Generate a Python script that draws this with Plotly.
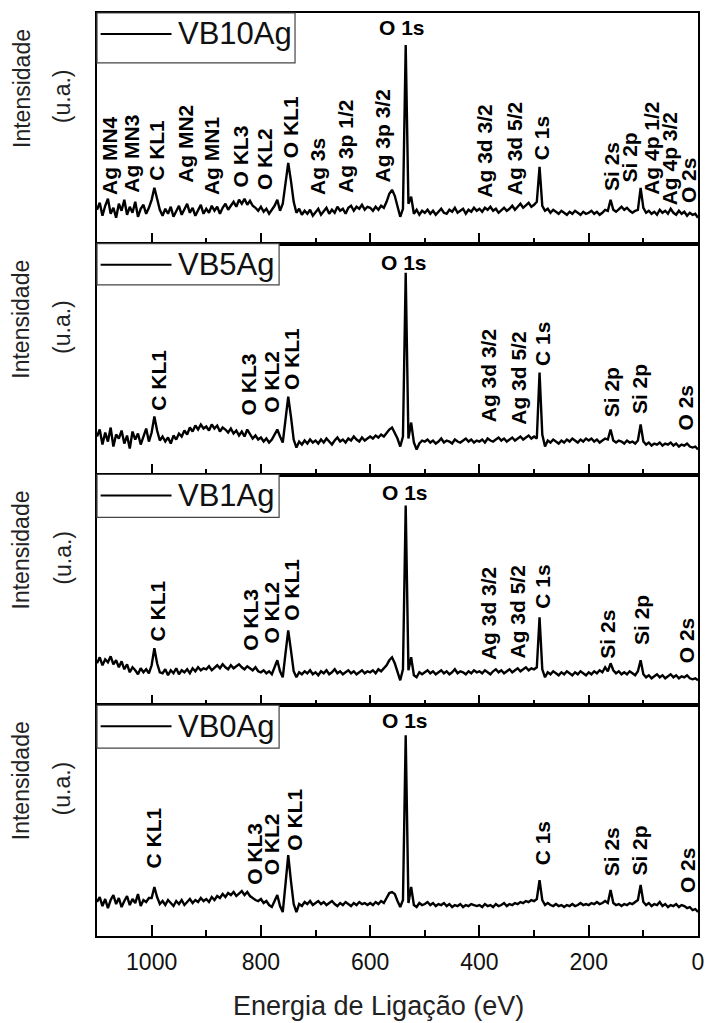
import plotly.graph_objects as go
from plotly.subplots import make_subplots

# Binding energy grid (eV), 1100 -> 0
ENERGY = [
    1100, 1095, 1090, 1085, 1080, 1075, 1070, 1065, 1060, 1055, 1050, 1045, 1040, 1035, 1030, 1025, 1020, 1015, 1010, 1005,
    1000, 995, 990, 985, 980, 975, 970, 965, 960, 955, 950, 945, 940, 935, 930, 925, 920, 915, 910, 905,
    900, 895, 890, 885, 880, 875, 870, 865, 860, 855, 850, 845, 840, 835, 830, 825, 820, 815, 810, 805,
    800, 795, 790, 785, 780, 775, 770, 765, 760, 755, 750, 745, 740, 735, 730, 725, 720, 715, 710, 705,
    700, 695, 690, 685, 680, 675, 670, 665, 660, 655, 650, 645, 640, 635, 630, 625, 620, 615, 610, 605,
    600, 595, 590, 585, 580, 575, 570, 565, 560, 555, 550, 545, 540, 535, 530, 525, 520, 515, 510, 505,
    500, 495, 490, 485, 480, 475, 470, 465, 460, 455, 450, 445, 440, 435, 430, 425, 420, 415, 410, 405,
    400, 395, 390, 385, 380, 375, 370, 365, 360, 355, 350, 345, 340, 335, 330, 325, 320, 315, 310, 305,
    300, 295, 290, 285, 280, 275, 270, 265, 260, 255, 250, 245, 240, 235, 230, 225, 220, 215, 210, 205,
    200, 195, 190, 185, 180, 175, 170, 165, 160, 155, 150, 145, 140, 135, 130, 125, 120, 115, 110, 105,
    100, 95, 90, 85, 80, 75, 70, 65, 60, 55, 50, 45, 40, 35, 30, 25, 20, 15, 10, 5,
    0,
]

VB10AG = [
    34, 41, 28, 38, 45, 30, 36, 26, 40, 33, 44, 29, 37, 31, 42, 27, 35, 39, 30, 36,
    44, 56, 45, 34, 28, 35, 30, 37, 27, 33, 38, 29, 35, 40, 31, 36, 28, 34, 39, 30,
    35, 31, 38, 33, 37, 30, 36, 40, 34, 38, 42, 37, 44, 40, 45, 39, 43, 38, 36, 33,
    37, 32, 35, 30, 34, 38, 44, 33, 40, 62, 81, 63, 42, 31, 35, 29, 33, 30, 34, 28,
    32, 35, 29, 33, 36, 30, 34, 31, 37, 33, 35, 30, 36, 38, 33, 37, 35, 39, 34, 37,
    36, 33, 37, 34, 38, 36, 42, 50, 54, 48, 38, 27, 35, 199, 40, 47, 30, 34, 29, 33,
    31, 34, 30, 33, 29, 32, 35, 31, 30, 34, 32, 36, 31, 33, 35, 30, 34, 32, 36, 33,
    35, 32, 36, 34, 37, 33, 35, 31, 34, 36, 33, 35, 38, 34, 37, 40, 36, 39, 41, 37,
    39, 42, 77, 38, 33, 35, 31, 34, 32, 30, 33, 31, 29, 32, 30, 33, 31, 29, 32, 30,
    31, 33, 30, 32, 29, 31, 34, 33, 44, 34, 32, 35, 37, 34, 36, 33, 31, 33, 34, 56,
    36, 31, 33, 30, 32, 29, 34, 31, 33, 30, 35, 31, 29, 33, 30, 32, 28, 31, 29, 30,
    26,
]

VB5AG = [
    38, 45, 30, 42, 33, 47, 28, 40, 36, 44, 31, 39, 26, 43, 35, 41, 30, 37, 46, 33,
    42, 58, 44, 34, 38, 33, 37, 31, 39, 35, 41, 38, 44, 40, 47, 43, 49, 45, 50, 46,
    48, 44, 50, 46, 49, 43, 47, 45, 42, 46, 41, 44, 39, 43, 38, 45, 40, 36, 39, 35,
    37, 33, 36, 32, 35, 40, 45, 38, 32, 55, 78, 58, 35, 27, 33, 30, 34, 31, 35, 32,
    34, 31, 35, 32, 36, 33, 30, 34, 37, 33, 35, 32, 36, 34, 38, 35, 33, 37, 34, 36,
    38, 36, 39, 37, 40, 38, 42, 45, 47, 41, 36, 28, 38, 202, 36, 52, 32, 25, 31, 34,
    33, 35, 32, 34, 31, 33, 36, 32, 34, 33, 31, 35, 33, 32, 34, 36, 33, 35, 32, 34,
    33, 35, 32, 36, 34, 33, 35, 37, 34, 36, 33, 35, 37, 34, 36, 38, 35, 37, 39, 36,
    38, 36, 102, 40, 28, 34, 32, 35, 33, 31, 34, 32, 35, 33, 36, 34, 32, 35, 33, 36,
    34, 36, 33, 35, 32, 34, 36, 35, 45, 34, 32, 34, 33, 31, 34, 32, 33, 31, 34, 50,
    33, 30, 32, 29, 31, 30, 32, 29, 31, 30, 32, 29, 31, 28, 30, 29, 31, 28, 27, 28,
    25,
]

VB1AG = [
    42, 48, 40, 46, 43, 49, 41, 45, 38, 44, 36, 41, 33, 38, 35, 31, 37, 33, 36, 32,
    40, 57, 42, 33, 32, 36, 30, 35, 32, 37, 31, 35, 33, 36, 32, 37, 34, 38, 35, 37,
    36, 39, 35, 38, 40, 37, 41, 38, 36, 40, 37, 39, 41, 38, 36, 39, 37, 35, 38, 34,
    33, 35, 32, 34, 31, 38, 45, 34, 28, 52, 75, 55, 34, 28, 33, 31, 34, 32, 35, 31,
    33, 30, 34, 32, 35, 31, 33, 36, 32, 34, 31, 33, 35, 32, 34, 31, 33, 35, 32, 34,
    33, 35, 32, 36, 34, 37, 40, 45, 48, 42, 34, 25, 36, 200, 35, 48, 30, 28, 33, 31,
    33, 35, 32, 34, 31, 33, 35, 32, 34, 31, 33, 36, 32, 34, 33, 31, 34, 32, 35, 33,
    34, 32, 35, 33, 31, 34, 36, 33, 35, 32, 34, 36, 33, 35, 37, 34, 36, 38, 35, 37,
    36, 38, 88, 36, 28, 33, 31, 34, 32, 30, 33, 31, 34, 32, 30, 33, 31, 34, 32, 30,
    33, 31, 34, 32, 35, 33, 38, 34, 42, 35, 32, 34, 31, 33, 31, 34, 32, 30, 34, 45,
    31, 28, 30, 27, 29, 31, 28, 30, 27, 29, 31, 28, 30, 27, 29, 28, 30, 27, 26, 27,
    25,
]

VB0AG = [
    34, 39, 30, 37, 28, 36, 41, 32, 38, 29, 35, 40, 31, 37, 33, 42, 30, 36, 34, 38,
    38, 49, 39, 32, 35, 31, 36, 33, 30, 35, 32, 36, 31, 34, 37, 33, 36, 34, 38, 35,
    37, 34, 39, 36, 40, 38, 42, 39, 43, 41, 44, 40, 43, 45, 41, 44, 40, 38, 36, 35,
    37, 33, 35, 31, 29, 35, 41, 30, 24, 52, 81, 55, 32, 24, 32, 30, 34, 32, 35, 31,
    33, 35, 32, 34, 31, 33, 35, 32, 30, 33, 31, 34, 32, 30, 33, 31, 34, 32, 33, 31,
    33, 31, 34, 32, 35, 33, 38, 43, 44, 42, 35, 29, 36, 201, 33, 49, 31, 29, 33, 31,
    32, 34, 31, 33, 30, 32, 31, 33, 30, 32, 29, 31, 30, 32, 29, 31, 30, 32, 31, 30,
    31, 29, 32, 30, 31, 29, 32, 30, 31, 33, 30, 32, 31, 33, 32, 34, 33, 35, 34, 36,
    35, 37, 56, 36, 31, 33, 31, 30, 32, 30, 31, 29, 31, 30, 32, 30, 31, 33, 31, 32,
    31, 33, 32, 34, 32, 33, 35, 33, 46, 33, 31, 32, 30, 32, 31, 33, 32, 34, 36, 51,
    34, 31, 33, 30, 32, 31, 34, 30, 32, 29, 31, 30, 32, 29, 31, 30, 28, 29, 26, 27,
    24,
]

SAMPLES = ["VB10Ag", "VB5Ag", "VB1Ag", "VB0Ag"]
SERIES = [VB10AG, VB5AG, VB1AG, VB0AG]

# Peak labels: (text, energy eV, bottom height in a.u.)
LABELS_VB10AG = [
    ("Ag MN4", 1076, 47), ("Ag MN3", 1036, 49), ("C KL1", 991, 61), ("Ag MN2", 937, 59),
    ("Ag MN1", 889, 47), ("O KL3", 837, 54), ("O KL2", 792, 52), ("O KL1", 746, 84),
    ("Ag 3s", 696, 47), ("Ag 3p 1/2", 645, 49), ("Ag 3p 3/2", 578, 59),
    ("Ag 3d 3/2", 391, 44), ("Ag 3d 5/2", 337, 47), ("C 1s", 285, 82),
    ("Si 2s", 158, 51), ("Si 2p", 125, 59), ("Ag 4p 1/2", 85, 47), ("Ag 4p 3/2", 53, 36),
    ("O 2s", 16, 39),
]
LABELS_VB5AG = [
    ("C KL1", 989, 62), ("O KL3", 822, 57), ("O KL2", 781, 60), ("O KL1", 744, 82),
    ("Ag 3d 3/2", 384, 50), ("Ag 3d 5/2", 330, 48), ("C 1s", 285, 107),
    ("Si 2p", 158, 55), ("Si 2p", 107, 58), ("O 2s", 22, 42),
]
LABELS_VB1AG = [
    ("C KL1", 989, 62), ("O KL3", 819, 52), ("O KL2", 781, 60), ("O KL1", 744, 82),
    ("Ag 3d 3/2", 382, 43), ("Ag 3d 5/2", 330, 45), ("C 1s", 285, 95),
    ("Si 2s", 165, 45), ("Si 2p", 103, 58), ("O 2s", 22, 40),
]
LABELS_VB0AG = [
    ("C KL1", 996, 66), ("O KL3", 813, 49), ("O KL2", 781, 59), ("O KL1", 740, 83),
    ("C 1s", 285, 69), ("Si 2s", 158, 58), ("Si 2p", 107, 58), ("O 2s", 20, 41),
]
LABELS = [LABELS_VB10AG, LABELS_VB5AG, LABELS_VB1AG, LABELS_VB0AG]
# O 1s (horizontal) label: (energy, centre height)
O1S_LABEL = [(542, 216), (538, 212), (536, 213), (536, 216)]

XTICKS = [1000, 800, 600, 400, 200, 0]

FONT = "Arial, 'Liberation Sans', Helvetica, sans-serif"
YMAX = 231

fig = make_subplots(rows=4, cols=1, shared_xaxes=True, vertical_spacing=0)

for i, (name, ys) in enumerate(zip(SAMPLES, SERIES)):
    r = i + 1
    fig.add_trace(go.Scatter(x=ENERGY, y=ys, mode="lines", name=name,
                             line=dict(color="black", width=2.4), showlegend=False),
                  row=r, col=1)

for i in range(4):
    r = i + 1
    fig.update_xaxes(row=r, col=1, range=[1100, 0], showline=True, mirror=True,
                     linecolor="black", linewidth=1.5, showgrid=False, zeroline=False,
                     ticks="inside", ticklen=11, tickwidth=1.5, tickcolor="black",
                     tickvals=XTICKS,
                     minor=dict(ticks="inside", ticklen=6, tickwidth=1.5, tickcolor="black",
                                dtick=100, tick0=0, showgrid=False),
                     showticklabels=(r == 4),
                     tickfont=dict(family=FONT, size=23, color="#111"))
    fig.update_yaxes(row=r, col=1, range=[0, YMAX], showline=True, mirror=True,
                     linecolor="black", linewidth=1.5, showgrid=False, zeroline=False,
                     ticks="", showticklabels=False)

fig.update_xaxes(row=4, col=1, ticklabelstandoff=5)

annotations = []
shapes = []
yrefs = ["y", "y2", "y3", "y4"]
xrefs = ["x", "x2", "x3", "x4"]
legend_box_right = [0.3295, 0.303, 0.303, 0.303]
legend_box_bottom = [0.784, 0.822, 0.814, 0.814]
LABEL_FONT = dict(family=FONT, size=21, color="black", weight="bold")

for i in range(4):
    yr = yrefs[i]
    xr = xrefs[i]
    for text, ev, h in LABELS[i]:
        annotations.append(dict(x=ev, y=h, xref=xr, yref=yr, text=text, showarrow=False,
                                textangle=-90, xanchor="center", yanchor="bottom",
                                font=LABEL_FONT))
    ev, h = O1S_LABEL[i]
    annotations.append(dict(x=ev, y=h, xref=xr, yref=yr, text="O 1s", showarrow=False,
                            xanchor="center", yanchor="middle", font=LABEL_FONT))
    # legend box
    shapes.append(dict(type="rect", xref=f"{xr} domain", yref=f"{yr} domain",
                       x0=0, x1=legend_box_right[i], y0=legend_box_bottom[i], y1=1,
                       line=dict(color="#444", width=1.2), fillcolor="white", layer="above"))
    shapes.append(dict(type="line", xref=f"{xr} domain", yref=f"{yr} domain",
                       x0=0.006, x1=0.124, y0=0.909, y1=0.909,
                       line=dict(color="black", width=2.2), layer="above"))
    annotations.append(dict(x=0.131, y=0.909, xref=f"{xr} domain", yref=f"{yr} domain",
                            text=SAMPLES[i], showarrow=False, xanchor="left", yanchor="middle",
                            font=dict(family=FONT, size=31, color="#111")))
    # y axis titles
    annotations.append(dict(x=-0.126, y=0.672, xref="paper", yref=f"{yr} domain",
                            text="Intensidade", showarrow=False, textangle=-90,
                            xanchor="center", yanchor="middle",
                            font=dict(family=FONT, size=23, color="#222")))
    annotations.append(dict(x=-0.058, y=0.64, xref="paper", yref=f"{yr} domain",
                            text="(u.a.)", showarrow=False, textangle=-90,
                            xanchor="center", yanchor="middle",
                            font=dict(family=FONT, size=23, color="#222")))

annotations.append(dict(x=0.468, y=-0.076, xref="paper", yref="paper",
                        text="Energia de Ligação (eV)", showarrow=False,
                        xanchor="center", yanchor="middle",
                        font=dict(family=FONT, size=27, color="#222")))

fig.update_layout(width=711, height=1023,
                  margin=dict(l=97, r=7, t=13, b=87),
                  paper_bgcolor="white", plot_bgcolor="white",
                  annotations=annotations, shapes=shapes, showlegend=False)

fig.write_html("out.html")
